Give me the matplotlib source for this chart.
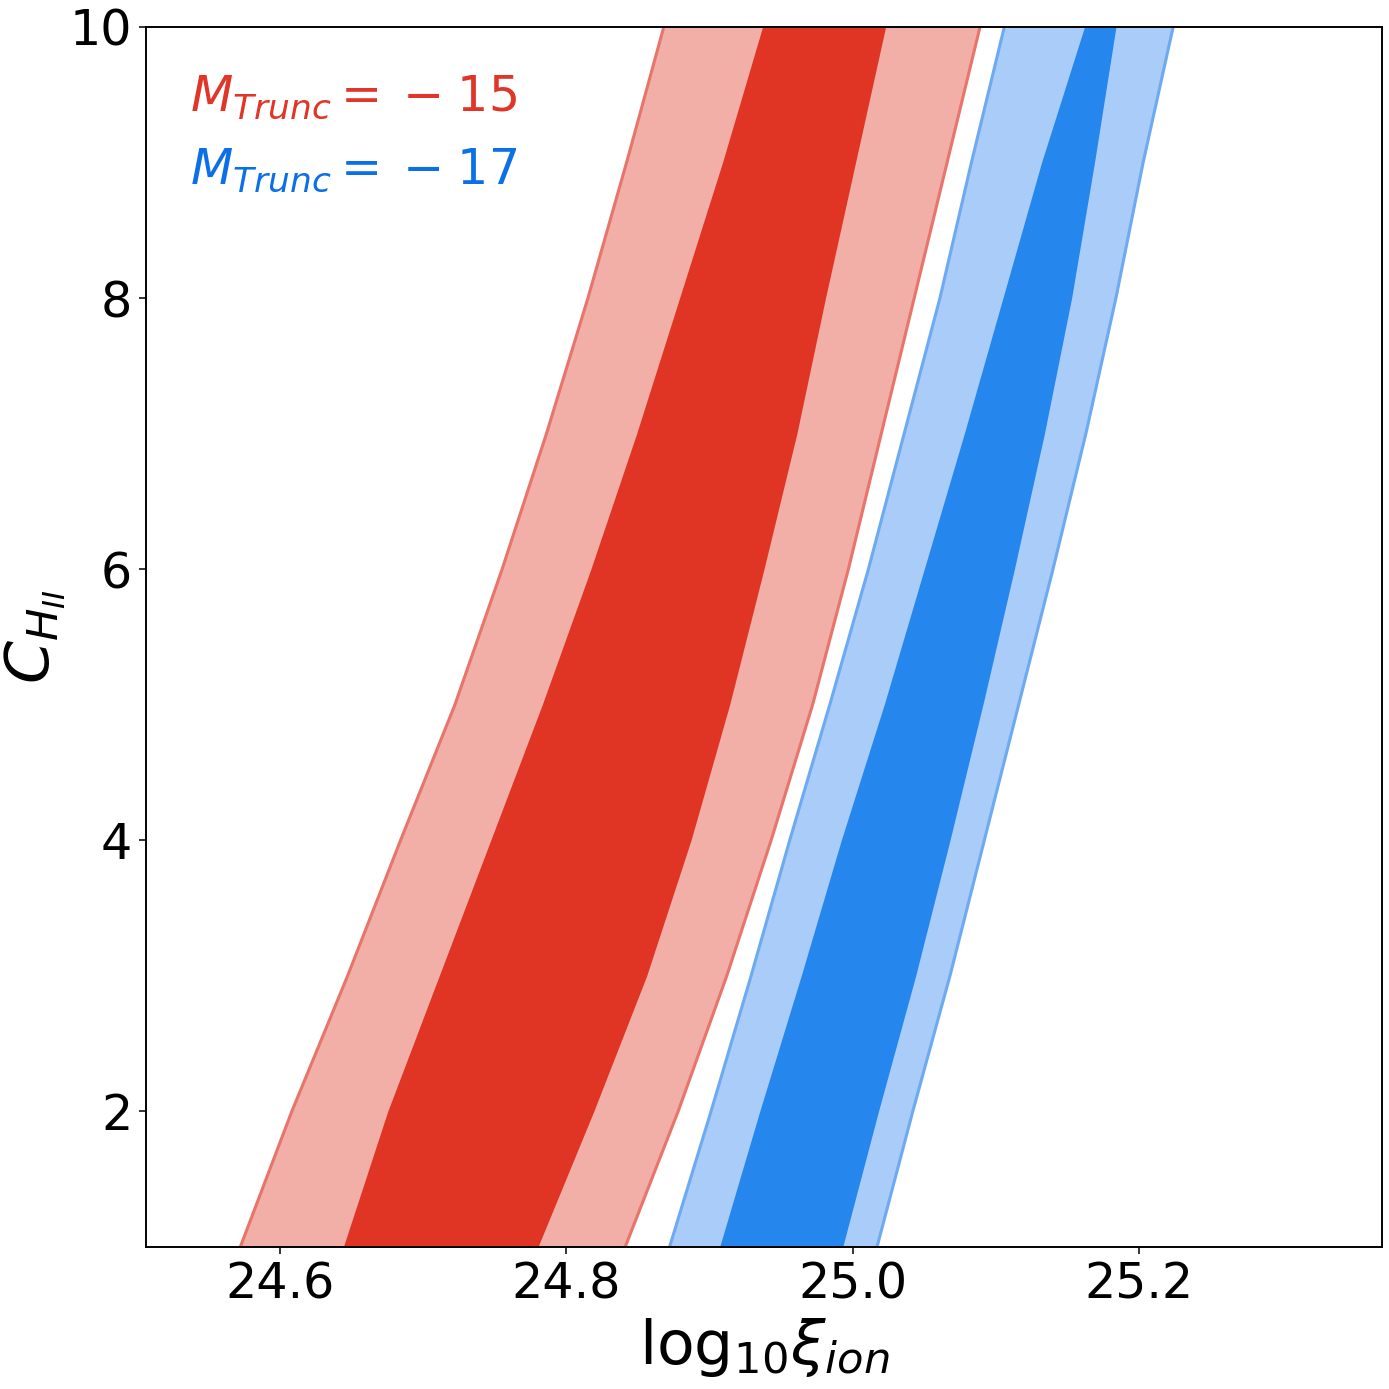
import matplotlib
matplotlib.use("Agg")
import matplotlib.pyplot as plt

# C_HII levels where band edges were read
c_hii = [1, 2, 3, 4, 5, 6, 7, 8, 9, 10]

# M_Trunc = -15 (red)
red_outer_left = [24.572, 24.608, 24.647, 24.684, 24.722, 24.755, 24.786, 24.815, 24.842, 24.868]
red_inner_left = [24.644, 24.675, 24.711, 24.747, 24.783, 24.817, 24.849, 24.879, 24.909, 24.937]
red_inner_right = [24.780, 24.819, 24.856, 24.887, 24.914, 24.938, 24.961, 24.981, 25.002, 25.023]
red_outer_right = [24.841, 24.878, 24.912, 24.943, 24.972, 24.997, 25.020, 25.043, 25.066, 25.089]

# M_Trunc = -17 (blue)
blue_outer_left = [24.872, 24.901, 24.929, 24.956, 24.984, 25.011, 25.036, 25.061, 25.083, 25.106]
blue_inner_left = [24.907, 24.935, 24.964, 24.992, 25.022, 25.050, 25.078, 25.105, 25.132, 25.162]
blue_inner_right = [24.993, 25.018, 25.044, 25.068, 25.091, 25.113, 25.134, 25.153, 25.169, 25.184]
blue_outer_right = [25.017, 25.042, 25.068, 25.092, 25.116, 25.140, 25.163, 25.184, 25.203, 25.224]

labels = [r'$M_{Trunc} = \:-\;15$', r'$M_{Trunc} = \:-\;17$']
x_ticks = [24.6, 24.8, 25.0, 25.2]
y_ticks = [2, 4, 6, 8, 10]

fig = plt.figure(figsize=(10, 10), dpi=138.9)
ax = fig.add_axes([0.105, 0.1022, 0.890, 0.8784])

series = [
    (red_outer_left, red_inner_left, red_inner_right, red_outer_right,
     '#f2afa8', '#e03525', '#e8756b'),
    (blue_outer_left, blue_inner_left, blue_inner_right, blue_outer_right,
     '#a9cdf8', '#2586ed', '#6eaaf2'),
]
for ol, il, ir, orr, light, dark, edge in series:
    ax.fill_betweenx(c_hii, ol, orr, color=light, lw=0)
    ax.fill_betweenx(c_hii, il, ir, color=dark, lw=0)
    ax.plot(ol, c_hii, color=edge, lw=1.6)
    ax.plot(orr, c_hii, color=edge, lw=1.6)

ax.set_xlim(24.506, 25.37)
ax.set_ylim(1, 10)
ax.set_xticks(x_ticks)
ax.set_xticklabels([f'{v:.1f}' for v in x_ticks])
ax.set_yticks(y_ticks)
ax.tick_params(labelsize=25.5, length=3.5, width=0.8)
for s in ax.spines.values():
    s.set_linewidth(1.0)

ax.set_xlabel(r'$\mathrm{log}_{10}\xi_{ion}$', fontsize=32)
ax.set_ylabel(r'$C_{H_{II}}$', fontsize=32, labelpad=1)

ax.text(0.036, 0.931, labels[0], transform=ax.transAxes, fontsize=25.5,
        color='#e03527', ha='left', va='baseline')
ax.text(0.036, 0.871, labels[1], transform=ax.transAxes, fontsize=25.5,
        color='#0b70e8', ha='left', va='baseline')

fig.savefig('out.png', dpi=138.9)
